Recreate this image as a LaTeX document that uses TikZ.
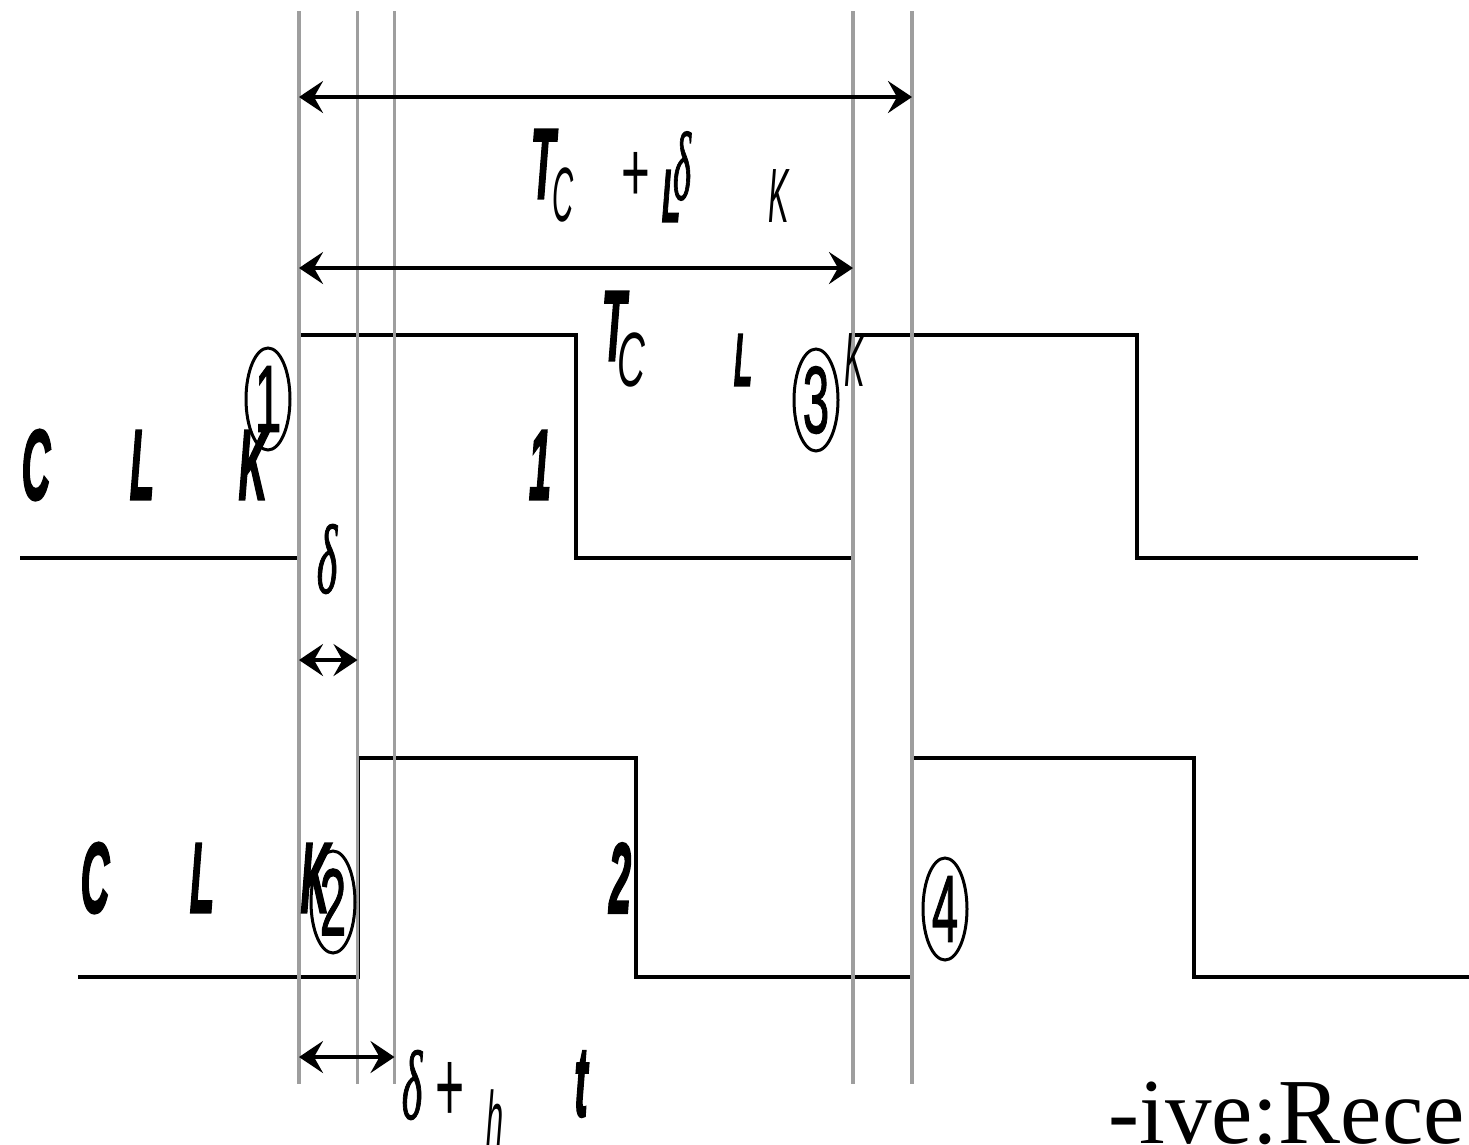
\documentclass[tikz,border=0pt]{standalone}
\usepackage{fontspec}
\usepackage{graphicx}
\usetikzlibrary{arrows.meta,shapes.geometric}
\newfontfamily\lsans{Liberation Sans}[FakeBold=1.5]
\newfontfamily\lplain{Liberation Sans}
\newfontfamily\lbi{Liberation Sans Bold Italic}[FakeBold=2.5]
\newfontfamily\lit{Liberation Sans Italic}
\newfontfamily\lgr{Liberation Serif Italic}[FakeBold=1.5]
\newfontfamily\lserif{Liberation Serif}
\newcommand\fsz[1]{\fontsize{#1}{#1}\selectfont}
\newcommand\sxb[2]{\scalebox{#1}[1]{#2}}
\definecolor{guidegray}{RGB}{158,158,158}
\tikzset{
  wave/.style={line width=4pt, line join=miter},
  guide/.style={line width=3.8pt, draw=guidegray},
  dimarrow/.style={line width=4pt, {Stealth[length=24pt,width=32pt,inset=9pt]}-{Stealth[length=24pt,width=32pt,inset=9pt]}},
  lbl/.style={inner sep=0pt, anchor=center},
  bi/.style={lbl, font=\lbi\fsz{#1}},
  it/.style={lbl, font=\lit\fsz{#1}},
  rm/.style={lbl, font=\lplain\fsz{#1}},
  gr/.style={lbl, font=\lgr\fsz{#1}},
  circ/.style={ellipse, draw, line width=3pt, minimum width=44pt, minimum height=102pt, inner sep=0pt, font=\lsans\fsz{95}}
}
\begin{document}
\begin{tikzpicture}[x=1pt,y=-1pt]
\useasboundingbox (0,0) rectangle (1469,1144);

% waveforms
\draw[wave] (20,558) -- (299,558) -- (299,335) -- (576,335) -- (576,558) -- (853,558) -- (853,335) -- (1137,335) -- (1137,558) -- (1418,558);
\draw[wave] (78,977) -- (357.5,977) -- (357.5,758) -- (636,758) -- (636,977) -- (912,977) -- (912,758) -- (1194,758) -- (1194,977) -- (1475,977);

% guide lines
\foreach \x/\n in {299/g1, 357.5/g2, 394.5/g3, 853/g4, 912/g5} {
  \coordinate (\n t) at (\x,11);
  \coordinate (\n b) at (\x,1084);
  \draw[guide] (\n t) -- (\n b);
}

% dimension arrows
\coordinate (a1l) at (299,97);   \coordinate (a1r) at (912,97);
\coordinate (a2l) at (299,268);  \coordinate (a2r) at (853,268);
\coordinate (a3l) at (299,660);  \coordinate (a3r) at (357.5,660);
\coordinate (a4l) at (299,1057); \coordinate (a4r) at (394.5,1057);
\draw[dimarrow] (a1l) -- (a1r);
\draw[dimarrow] (a2l) -- (a2r);
\draw[dimarrow] (a3l) -- (a3r);
\draw[dimarrow] (a4l) -- (a4r);

% top label  T_C + L delta K
\node[bi=100] (t1T) at (543,164) {\sxb{0.4}{T}};
\node[it=77]  (t1C) at (563,195) {\sxb{0.38}{C}};
\node[rm=85]  (t1p) at (636,177) {\sxb{0.58}{+}};
\node[bi=75]  (t1L) at (671,196) {\sxb{0.4}{L}};
\node[gr=97]  (t1d) at (682,166) {\sxb{0.4}{δ}};
\node[it=77]  (t1K) at (779,196) {\sxb{0.4}{K}};

% second label  T_C L K
\node[bi=100] (t2T) at (614,326) {\sxb{0.4}{T}};
\node[it=77]  (t2C) at (631,360) {\sxb{0.5}{C}};
\node[bi=75]  (t2L) at (743,360) {\sxb{0.4}{L}};
\node[it=77]  (t2K) at (855,360) {\sxb{0.4}{K}};

% CLK1 label
\node[bi=100] (k1C) at (36,465)  {\sxb{0.4}{C}};
\node[bi=100] (k1L) at (142,465) {\sxb{0.4}{L}};
\node[bi=100] (k1K) at (253,465) {\sxb{0.4}{K}};
\node[bi=100] (k1n) at (540,465) {\sxb{0.4}{1}};

% CLK2 label
\node[bi=100] (k2C) at (95,878)  {\sxb{0.4}{C}};
\node[bi=100] (k2L) at (202,878) {\sxb{0.4}{L}};
\node[bi=100] (k2K) at (315,878) {\sxb{0.4}{K}};
\node[bi=100] (k2n) at (620,878) {\sxb{0.4}{2}};

% delta labels
\node[gr=98] (d1) at (327,559) {\sxb{0.45}{δ}};
\node[gr=98] (d2) at (412,1085) {\sxb{0.45}{δ}};
\node[rm=104] (d2p) at (450,1092) {\sxb{0.48}{+}};
\node[it=77] (d2h) at (495,1118) {\sxb{0.4}{h}};
\node[bi=100] (d2t) at (581,1084) {\sxb{0.4}{t}};

% circled numbers
\node[circ] (c1) at (268,399) {\sxb{0.5}{1}};
\node[circ] (c3) at (816,400) {\sxb{0.5}{3}};
\node[circ] (c2) at (333,902) {\sxb{0.5}{2}};
\node[circ] (c4) at (945,909) {\sxb{0.5}{4}};

% stray caption
\node[anchor=base west, inner sep=0pt, font=\lserif\fsz{93}] (rece) at (1108,1143) {-ive:Rece};
\end{tikzpicture}
\end{document}
